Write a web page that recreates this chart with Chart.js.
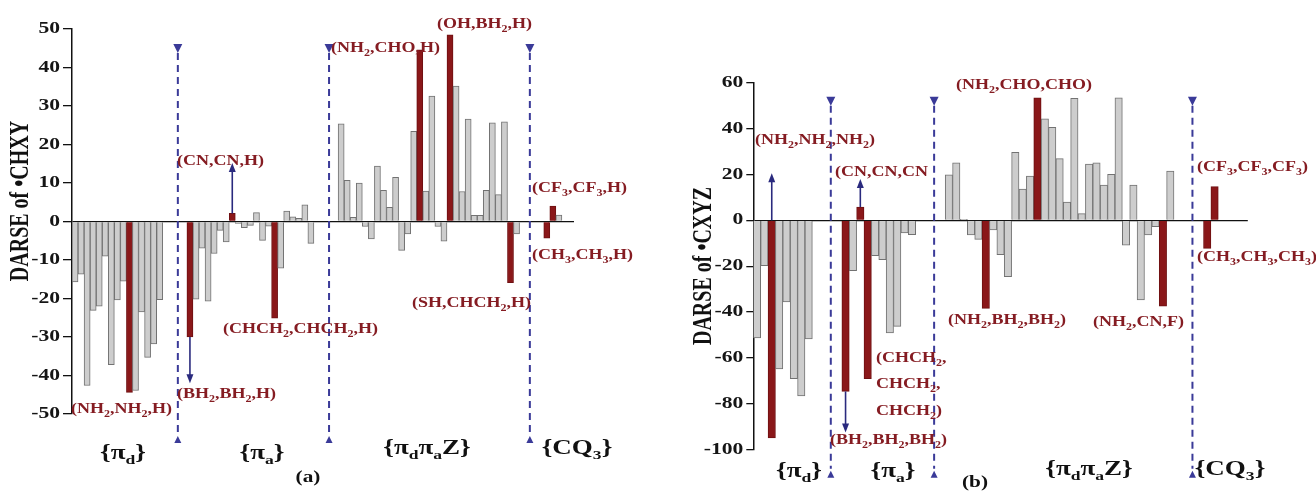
<!DOCTYPE html>
<html lang="en">
<head>
<meta charset="UTF-8">
<title>DARSE of CHXY and CXYZ</title>
<script src="https://cdn.jsdelivr.net/npm/chart.js"></script>
<style>
  body { margin: 0; background: #fff; }
  #wrap { position: relative; width: 1316px; height: 492px; }
  #chartA { position: absolute; left: 0; top: 0; }
  #chartB { position: absolute; left: 660px; top: 0; }
</style>
</head>
<body>
<div id="wrap">
  <canvas id="chartA" width="640" height="492"></canvas>
  <canvas id="chartB" width="656" height="492"></canvas>
</div>
<script>
// group names, "_x" marks a subscript character
var groupNames = ['{π_d}', '{π_a}', '{π_dπ_aZ}', '{CQ_3}'];

// panel (a): DARSE of •CHXY
var chxyPiD = [-15.7, -13.7, -42.6, -23.1, -22.0, -9.0, -37.2, -20.4, -15.5, -44.4, -43.9, -23.5, -35.3, -31.8, -20.3];
var chxyPiA = [-30.0, -20.2, -6.9, -20.7, -8.3, -2.3, -5.3, 2.1, -0.5, -1.6, -1.0, 2.3, -4.9, -1.2, -25.1, -12.1, 2.7, 1.2, 0.8, 4.3, -5.7];
var chxyPiDPiAZ = [25.4, 10.7, 1.1, 10.0, -1.3, -4.5, 14.4, 8.1, 3.7, 11.5, -7.5, -3.2, 23.4, 44.6, 7.9, 32.6, -1.3, -5.1, 48.5, 35.2, 7.8, 26.6, 1.6, 1.6, 8.1, 25.6, 7.0, 25.9, -15.9, -3.2];
var chxyCQ3 = [-4.3, 4.0, 1.7];
var chxyMarked = [[9], [0, 7, 14], [13, 18, 28], [0, 1]];
var chxyTicks = [-50, 50, 10];

// panel (b): DARSE of •CXYZ
var cxyzPiD = [-51.3, -19.8, -94.9, -64.8, -35.6, -69.0, -76.5, -51.7];
var cxyzPiA = [-74.6, -21.9, 5.8, -69.0, -15.4, -17.2, -49.1, -46.2, -5.5, -6.3];
var cxyzPiDPiAZ = [19.8, 25.1, 0.4, -6.4, -8.3, -38.4, -4.2, -15.0, -24.6, 29.6, 13.6, 19.3, 53.4, 44.2, 40.5, 26.9, 8.0, 53.2, 2.9, 24.5, 25.1, 15.4, 20.0, 53.4, -10.8, 15.4, -34.7, -6.4, -2.8, -37.4, 21.5];
var cxyzCQ3 = [-12.2, 14.7];
var cxyzMarked = [[2], [0, 2, 3], [5, 12, 29], [0, 1]];
var cxyzTicks = [-100, 60, 20];

var GREY = '#cdcdcd', GREY_EDGE = '#727272';
var RED = '#8a1719', RED_EDGE = '#6e1012';
var LABEL_RED = '#851c22', BLUE = '#3a3a98', NAVY = '#2a2a7e';
var FONT = '"Liberation Serif", "Times New Roman", serif';

function buildSlots(groups, marked, gap, tail) {
  var out = { labels: [], values: [], fill: [], edge: [], starts: [] };
  groups.forEach(function (g, gi) {
    if (gi > 0) {
      for (var k = 0; k < gap; k++) { out.values.push(null); out.fill.push(GREY); out.edge.push(GREY_EDGE); }
    }
    out.starts.push(out.values.length);
    g.forEach(function (v, i) {
      var red = marked[gi].indexOf(i) >= 0;
      out.values.push(v);
      out.fill.push(red ? RED : GREY);
      out.edge.push(red ? RED_EDGE : GREY_EDGE);
    });
  });
  for (var t = 0; t < tail; t++) { out.values.push(null); out.fill.push(GREY); out.edge.push(GREY_EDGE); }
  out.labels = out.values.map(function (v, i) { return String(i); });
  return out;
}

// text with subscripts, optionally stretched horizontally and rotated
function drawRich(ctx, str, x, y, size, color, align, stretch, rotate) {
  var parts = [];
  for (var i = 0; i < str.length; i++) {
    if (str[i] === '_') { parts.push({ t: str[i + 1], sub: true }); i++; }
    else parts.push({ t: str[i], sub: false });
  }
  var font = 'bold ' + size + 'px ' + FONT;
  var subFont = 'bold ' + Math.round(size * 0.66) + 'px ' + FONT;
  ctx.save();
  ctx.translate(x, y);
  if (rotate) { ctx.rotate(-Math.PI / 2); ctx.scale(1, stretch); }
  else ctx.scale(stretch, 1);
  var w = 0;
  parts.forEach(function (p) { ctx.font = p.sub ? subFont : font; p.w = ctx.measureText(p.t).width; w += p.w; });
  var cx = align === 'center' ? -w / 2 : (align === 'right' ? -w : 0);
  ctx.fillStyle = color;
  ctx.textBaseline = 'middle';
  ctx.textAlign = 'left';
  parts.forEach(function (p) {
    ctx.font = p.sub ? subFont : font;
    ctx.fillText(p.t, cx, p.sub ? size * 0.33 : 0);
    cx += p.w;
  });
  ctx.restore();
}

function tri(ctx, x, y, s, down) {
  ctx.beginPath();
  if (down) { ctx.moveTo(x - s / 2, y); ctx.lineTo(x + s / 2, y); ctx.lineTo(x, y + s); }
  else { ctx.moveTo(x - s / 2, y); ctx.lineTo(x + s / 2, y); ctx.lineTo(x, y - s); }
  ctx.closePath();
  ctx.fill();
}

var decoPlugin = {
  id: 'deco',
  afterDraw: function (chart, args, o) {
    var ctx = chart.ctx, xs = chart.scales.x, ys = chart.scales.y, area = chart.chartArea;
    var slots = o.slots;

    // y tick labels
    ys.ticks.forEach(function (t, i) {
      drawRich(ctx, String(t.value), area.left - o.tickLen - 3, ys.getPixelForTick(i), 16, '#151515', 'right', 1.35, false);
    });

    // dashed group dividers with triangles
    ctx.save();
    ctx.strokeStyle = BLUE;
    ctx.fillStyle = BLUE;
    ctx.lineWidth = 2;
    ctx.setLineDash([7, 5]);
    for (var g = 1; g < slots.starts.length; g++) {
      var x = xs.getPixelForValue(slots.starts[g] - 2 + o.shift[g - 1]);
      var top = area.top + o.triTop, bot = area.bottom + o.triBottom;
      ctx.beginPath();
      ctx.moveTo(x, top + 7);
      ctx.lineTo(x, bot - 9);
      ctx.stroke();
      tri(ctx, x, top - 2, 9, true);
      tri(ctx, x, bot, 7, false);
    }
    ctx.restore();

    // arrows
    ctx.save();
    ctx.strokeStyle = NAVY;
    ctx.fillStyle = NAVY;
    ctx.lineWidth = 1.6;
    o.arrows.forEach(function (a) {
      var idx = slots.starts[a.group] + a.index;
      var x = xs.getPixelForValue(idx);
      var from = a.from !== undefined ? a.from : slots.values[idx];
      var y0 = ys.getPixelForValue(from), y1 = ys.getPixelForValue(a.to);
      var dir = y1 < y0 ? -1 : 1;
      ctx.beginPath();
      ctx.moveTo(x, y0);
      ctx.lineTo(x, y1 - dir * 8);
      ctx.stroke();
      ctx.beginPath();
      ctx.moveTo(x - 3.5, y1 - dir * 9);
      ctx.lineTo(x + 3.5, y1 - dir * 9);
      ctx.lineTo(x, y1);
      ctx.closePath();
      ctx.fill();
    });
    ctx.restore();

    // annotation texts
    o.notes.forEach(function (n) {
      drawRich(ctx, n[0], n[1], n[2], 15, LABEL_RED, 'left', 1.2, false);
    });

    // group names
    groupNames.forEach(function (name, i) {
      drawRich(ctx, name, o.groupX[i], o.groupY[i], 20, '#111', 'center', 1.35, false);
    });
    drawRich(ctx, o.panel[0], o.panel[1], o.panel[2], 16, '#111', 'center', 1.33, false);

    // y axis title
    drawRich(ctx, o.title[0], o.title[1], o.title[2], 20, '#111', 'center', 1.35, true);
  }
};

function makeChart(id, slots, ticks, tickLen, axisWidth, padding, deco) {
  return new Chart(document.getElementById(id), {
    type: 'bar',
    data: {
      labels: slots.labels,
      datasets: [{
        data: slots.values,
        backgroundColor: slots.fill,
        borderColor: slots.edge,
        borderWidth: 1,
        barPercentage: 1,
        categoryPercentage: 1
      }]
    },
    options: {
      responsive: false,
      animation: false,
      layout: { padding: padding },
      plugins: { legend: { display: false }, tooltip: { enabled: false }, deco: deco },
      scales: {
        x: { display: false, offset: true },
        y: {
          min: ticks[0],
          max: ticks[1],
          ticks: { stepSize: ticks[2], display: false },
          grid: {
            color: function (c) { return c.tick && c.tick.value === 0 ? '#111' : 'rgba(0,0,0,0)'; },
            tickColor: '#111',
            tickLength: tickLen,
            lineWidth: 1.3
          },
          border: { display: true, color: '#111', width: 1.5 },
          afterFit: function (s) { s.width = axisWidth; }
        }
      }
    },
    plugins: [decoPlugin]
  });
}

var slotsA = buildSlots([chxyPiD, chxyPiA, chxyPiDPiAZ, chxyCQ3], chxyMarked, 4, 2);
var slotsB = buildSlots([cxyzPiD, cxyzPiA, cxyzPiDPiAZ, cxyzCQ3], cxyzMarked, 4, 4);

makeChart('chartA', slotsA, chxyTicks, 9, 72, { left: 0, top: 29, right: 66, bottom: 78 }, {
  slots: slotsA,
  tickLen: 9,
  shift: [0, 0, -0.8],
  triTop: 17,
  triBottom: 29,
  arrows: [
    { group: 1, index: 7, to: 15.2 },
    { group: 1, index: 0, to: -42 }
  ],
  notes: [
    ['(CN,CN,H)', 177, 161],
    ['(BH_2,BH_2,H)', 177, 394],
    ['(NH_2,NH_2,H)', 71, 409],
    ['(CHCH_2,CHCH_2,H)', 223, 329],
    ['(NH_2,CHO,H)', 331, 48],
    ['(OH,BH_2,H)', 437, 24],
    ['(SH,CHCH_2,H)', 412, 303],
    ['(CF_3,CF_3,H)', 532, 188],
    ['(CH_3,CH_3,H)', 532, 255]
  ],
  groupX: [123, 262, 427, 577],
  groupY: [454, 454, 449, 449],
  panel: ['(a)', 308, 478],
  title: ['DARSE of •CHXY', 21, 201]
});

makeChart('chartB', slotsB, cxyzTicks, 7, 93.3, { left: 0, top: 82.7, right: 68.2, bottom: 42.3 }, {
  slots: slotsB,
  tickLen: 7,
  shift: [0, 0, 0],
  triTop: 16,
  triBottom: 28,
  arrows: [
    { group: 0, index: 2, from: 0, to: 20.5 },
    { group: 1, index: 2, to: 18 },
    { group: 1, index: 0, to: -92.5 }
  ],
  notes: [
    ['(NH_2,NH_2,NH_2)', 95, 140],
    ['(CN,CN,CN', 175, 172],
    ['(NH_2,CHO,CHO)', 296, 85],
    ['(CF_3,CF_3,CF_3)', 537, 167],
    ['(CH_3,CH_3,CH_3)', 537, 257],
    ['(NH_2,CN,F)', 433, 322],
    ['(NH_2,BH_2,BH_2)', 288, 320],
    ['(CHCH_2,', 216, 358],
    ['CHCH_2,', 216, 384],
    ['CHCH_2)', 216, 411],
    ['(BH_2,BH_2,BH_2)', 170, 440]
  ],
  groupX: [139, 233, 429, 570],
  groupY: [472, 472, 470, 470],
  panel: ['(b)', 315, 483],
  title: ['DARSE of •CXYZ', 44, 266]
});
</script>
</body>
</html>
